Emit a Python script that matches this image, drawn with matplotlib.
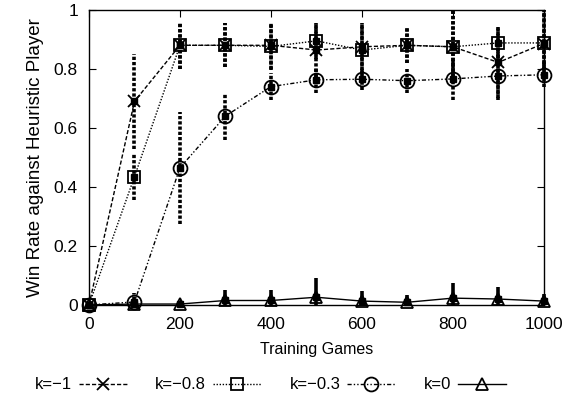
import matplotlib.pyplot as plt
import numpy as np

plt.rcParams['font.family'] = ['Liberation Sans', 'DejaVu Sans']

games = [0, 100, 200, 300, 400, 500, 600, 700, 800, 900, 1000]

# k=-1
win_k1 = [0, 0.69, 0.88, 0.88, 0.88, 0.864, 0.875, 0.88, 0.875, 0.822, 0.886]
err_k1 = [0, 0.16, 0.08, 0.075, 0.08, 0.09, 0.08, 0.06, 0.12, 0.12, 0.12]
# k=-0.8
win_k08 = [0, 0.435, 0.88, 0.88, 0.876, 0.895, 0.864, 0.88, 0.875, 0.888, 0.888]
err_k08 = [0, 0.08, 0.08, 0.075, 0.08, 0.06, 0.09, 0.06, 0.12, 0.05, 0.11]
# k=-0.3
win_k03 = [0, 0.01, 0.465, 0.64, 0.74, 0.763, 0.765, 0.76, 0.766, 0.776, 0.78]
err_k03 = [0, 0.03, 0.19, 0.08, 0.045, 0.045, 0.035, 0.04, 0.07, 0.08, 0.04]
# k=0
win_k0 = [0, 0.003, 0.003, 0.015, 0.015, 0.026, 0.013, 0.009, 0.023, 0.02, 0.013]
err_k0 = [0, 0.005, 0.005, 0.035, 0.035, 0.064, 0.035, 0.025, 0.052, 0.04, 0.024]

series = [
    ("k=\u22121", win_k1, err_k1, (0, (3, 1.5)), 'x', 9),
    ("k=\u22120.8", win_k08, err_k08, (0, (1, 1.2)), 's', 9),
    ("k=\u22120.3", win_k03, err_k03, (0, (3, 1.5, 1, 1.5, 1, 1.5)), 'o', 10),
    ("k=0", win_k0, err_k0, '-', '^', 9),
]

fig = plt.figure(figsize=(5.67, 3.96), dpi=100)
ax = fig.add_axes([0.157, 0.23, 0.802, 0.745])

for label, y, e, ls, mk, ms in series:
    y = np.array(y)
    e = np.array(e)
    lo = np.minimum(e, y)
    hi = np.minimum(e, 1 - y)
    eb = ax.errorbar(games, y, yerr=[lo, hi], fmt='none', ecolor='black',
                     elinewidth=2.6, capsize=0, clip_on=False)
    if ls == '-':
        eb[2][0].set_linestyle('-')
    else:
        eb[2][0].set_linestyle((0, (0.9, 0.55)))
    ax.plot(games, y, color='black', linestyle=ls, linewidth=1.0,
            marker=mk, markersize=ms, markerfacecolor='none',
            markeredgecolor='black', markeredgewidth=1.3, label=label,
            clip_on=False)
    ax.plot(games, y, linestyle='none', marker='s', markersize=4,
            color='black', clip_on=False)

ax.set_xlim(0, 1000)
ax.set_ylim(0, 1)
ax.set_xticks(np.arange(0, 1001, 200))
ax.set_yticks(np.arange(0, 1.01, 0.2))
ax.set_yticklabels(['0', '0.2', '0.4', '0.6', '0.8', '1'])
ax.tick_params(direction='in', top=True, right=True, length=5,
               labelsize=12.5)
ax.tick_params(axis='x', pad=9)
ax.tick_params(axis='y', pad=8)
for s in ax.spines.values():
    s.set_linewidth(1.0)

ax.set_xlabel('Training Games', fontsize=11.5, labelpad=7)
ax.set_ylabel('Win Rate against Heuristic Player', fontsize=13.5, labelpad=7)

fig.legend(loc='center', bbox_to_anchor=(0.477, 0.028), ncol=4, frameon=False,
           markerfirst=False, fontsize=12, handlelength=2.9,
           columnspacing=1.7, handletextpad=0.4)

fig.savefig('out.png', dpi=100)
